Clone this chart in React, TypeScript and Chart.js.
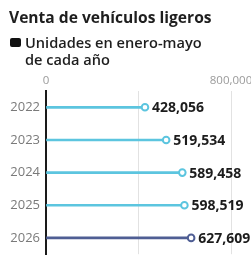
import React, { useEffect, useRef } from "react";
import { Chart, registerables } from "chart.js";

Chart.register(...registerables);

const years = ["2022", "2023", "2024", "2025", "2026"];
const units = [428056, 519534, 589458, 598519, 627609];
const colors = ["#5cc5df", "#5cc5df", "#5cc5df", "#5cc5df", "#4f5e94"];
const xTicks = [0, 400000, 800000];
const xTickLabels = ["0", "", "800,000"];

const title = "Venta de vehículos ligeros";
const subtitle1 = "Unidades en enero-mayo";
const subtitle2 = "de cada año";

const FONT = "'Open Sans', 'Noto Sans', sans-serif";
const CANVAS_W = 290;
const CANVAS_H = 268;

const valueLabels = {
  id: "valueLabels",
  afterDatasetsDraw(chart: any) {
    const meta = chart.getDatasetMeta(0);
    const ctx = chart.ctx;
    ctx.save();
    ctx.font = `bold 14px ${FONT}`;
    ctx.fillStyle = "#1c1c1c";
    ctx.textAlign = "left";
    ctx.textBaseline = "middle";
    meta.data.forEach((pt: any, i: number) => {
      ctx.fillText(units[i].toLocaleString("en-US"), pt.x + 7, pt.y + 1);
    });
    ctx.restore();
  },
};

export default function App() {
  const ref = useRef<HTMLCanvasElement>(null);
  useEffect(() => {
    if (!ref.current) return;
    const chart = new Chart(ref.current, {
      type: "bar",
      data: {
        labels: years,
        datasets: [
          {
            type: "line",
            data: units,
            showLine: false,
            pointRadius: 3.3,
            pointBorderWidth: 2,
            pointBackgroundColor: "#ffffff",
            pointBorderColor: colors,
            order: 1,
          } as any,
          {
            type: "bar",
            data: units,
            backgroundColor: colors,
            barThickness: 2,
            order: 2,
          },
        ],
      },
      options: {
        indexAxis: "y",
        responsive: false,
        animation: false,
        devicePixelRatio: 1,
        layout: { padding: { top: 70, left: 0, right: CANVAS_W - 231, bottom: 3 } },
        plugins: { legend: { display: false }, tooltip: { enabled: false }, title: { display: false } },
        scales: {
          x: {
            position: "top",
            min: 0,
            max: 800000,
            afterBuildTicks: (s: any) => {
              s.ticks = xTicks.map((v) => ({ value: v }));
            },
            afterFit: (s: any) => {
              s.height = 21;
            },
            ticks: {
              autoSkip: false,
              maxRotation: 0,
              padding: 3,
              color: "#9a9a9a",
              font: { family: FONT, size: 11.5 },
              callback: (v: any, i: number) => xTickLabels[i] ?? "",
            },
            grid: {
              drawTicks: false,
              color: (c: any) => (c.tick && c.tick.value === 0 ? "rgba(0,0,0,0)" : "#e2e2e2"),
              lineWidth: 1,
            },
            border: { display: false },
          },
          y: {
            type: "category",
            afterFit: (s: any) => {
              s.width = 46;
            },
            grid: { display: false, drawTicks: false },
            border: { display: true, color: "#1a1a1a", width: 2 },
            ticks: {
              padding: 6,
              color: "#7a7a7a",
              font: { family: FONT, size: 13 },
            },
          },
        },
      },
      plugins: [valueLabels],
    });
    return () => chart.destroy();
  }, []);

  return (
    <div
      style={{
        position: "fixed",
        left: 0,
        top: 0,
        width: 251,
        height: 268,
        overflow: "hidden",
        background: "#fff",
        fontFamily: FONT,
        color: "#1e1e1e",
      }}
    >
      <canvas
        ref={ref}
        width={CANVAS_W}
        height={CANVAS_H}
        style={{ position: "absolute", left: 0, top: 0, width: CANVAS_W, height: CANVAS_H }}
      />
      <div
        style={{
          position: "absolute",
          left: 9,
          top: 9,
          fontSize: 15.6,
          lineHeight: "17px",
          fontWeight: 700,
          whiteSpace: "nowrap",
        }}
      >
        {title}
      </div>
      <div
        style={{
          position: "absolute",
          left: 10,
          top: 38,
          width: 11,
          height: 9,
          background: "#111",
          borderRadius: 2,
        }}
      />
      <div
        style={{
          position: "absolute",
          left: 25,
          top: 34,
          fontSize: 14.6,
          lineHeight: "17px",
          fontWeight: 600,
          whiteSpace: "nowrap",
        }}
      >
        {subtitle1}
        <br />
        {subtitle2}
      </div>
    </div>
  );
}
